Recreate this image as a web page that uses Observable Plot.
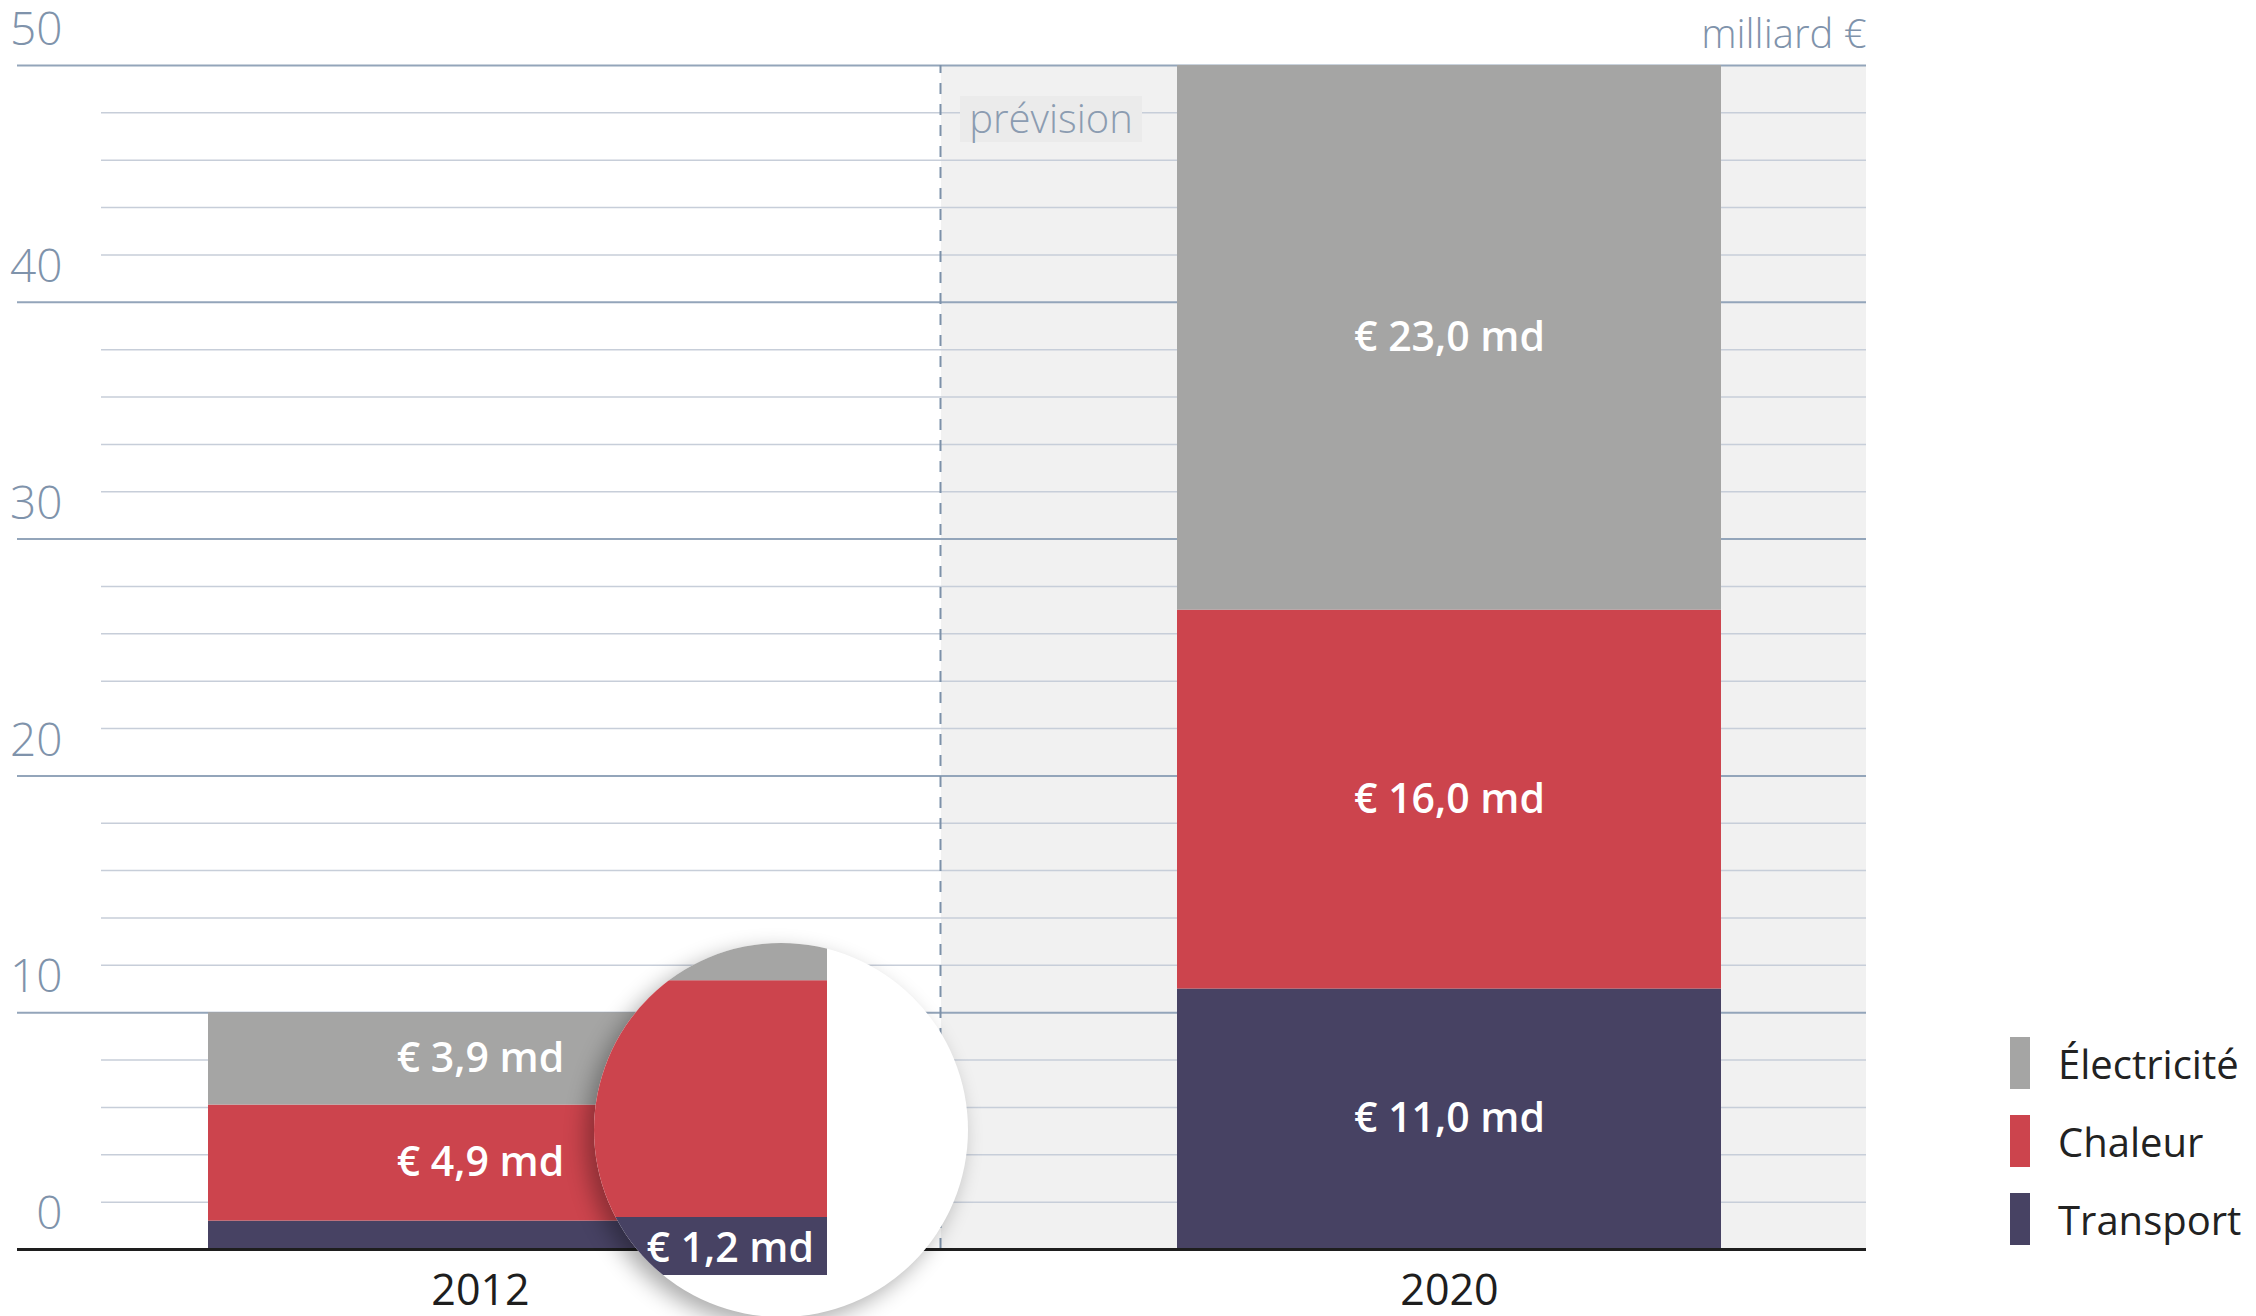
<!DOCTYPE html>
<html>
<head>
<meta charset="utf-8">
<script src="https://cdn.jsdelivr.net/npm/d3@7"></script>
<script src="https://cdn.jsdelivr.net/npm/@observablehq/plot@0.6"></script>
<style>
  html, body { margin: 0; padding: 0; background: #fff; overflow: hidden; }
  #wrap { position: relative; width: 2256px; height: 1316px; background: #fff; font-family: "Open Sans", sans-serif; }
  #wrap > svg { position: absolute; left: 0; top: 0; }
  #lens { position: absolute; left: 594px; top: 943px; width: 374px; height: 374px; border-radius: 50%;
          overflow: hidden; background: #fff; box-shadow: -8px 8px 22px rgba(0,0,0,0.33); }
  #lens svg { display: block; }
  #forecast { position: absolute; left: 960px; top: 96px; width: 182px; height: 46px; background: #ebebeb;
              color: #8b9cb1; font-size: 40px; font-weight: 300; line-height: 44px; text-align: center; }
  #legend { position: absolute; left: 2010px; top: 1037px; }
  .row { display: flex; align-items: center; height: 52px; margin-bottom: 26px; }
  .sw { width: 20px; height: 52px; }
  .lab { margin-left: 28px; font-size: 40px; color: #222; font-weight: 400; }
</style>
</head>
<body>
<div id="wrap"></div>
<script>
// ---- data ----
const years = ["2012", "2020"];
const categories = ["Transport", "Chaleur", "Électricité"];
const colors = ["#474263", "#cc444d", "#a5a5a4"];
const values2012 = [1.2, 4.9, 3.9];
const values2020 = [11.0, 16.0, 23.0];
const majorTicks = [0, 10, 20, 30, 40, 50];
const minorTicks = [2, 4, 6, 8, 12, 14, 16, 18, 22, 24, 26, 28, 32, 34, 36, 38, 42, 44, 46, 48];
const unitLabel = "milliard €";
const forecastLabel = "prévision";
const forecastSpan = [0, 50];
const zoomedYear = "2012";
const zoomedCategory = "Transport";

const seriesByYear = [values2012, values2020];
const data = years.flatMap((year, i) =>
  categories.map((category, j) => ({year, category, value: seriesByYear[i][j]})));

const fmt = d => "€ " + d.value.toFixed(1).replace(".", ",") + " md";
const isZoomed = d => d.year === zoomedYear && d.category === zoomedCategory;

const wrap = document.getElementById("wrap");

// ---- main chart ----
const main = Plot.plot({
  width: 2256, height: 1316,
  marginTop: 65, marginBottom: 67, marginLeft: 17, marginRight: 390,
  x: {domain: years, paddingInner: 0.4381, paddingOuter: 0.1722, align: 0.57, axis: null},
  y: {domain: [0, 50], axis: null},
  color: {domain: categories, range: colors},
  style: {fontFamily: "Open Sans, sans-serif", background: "transparent"},
  marks: [
    Plot.rect([forecastSpan], {y1: d => d[0], y2: d => d[1], insetLeft: 924, fill: "#f1f1f1"}),
    Plot.ruleY(minorTicks, {insetLeft: 84, stroke: "#c7ced9", strokeWidth: 1.5}),
    Plot.ruleY(majorTicks.filter(t => t > 0), {stroke: "#93a5ba", strokeWidth: 2}),
    Plot.ruleX([forecastSpan], {x: () => "2020", y1: d => d[0], y2: d => d[1], dx: -509,
      stroke: "#7d91a9", strokeWidth: 2, strokeDasharray: "11,10"}),
    Plot.barY(data, {x: "year", y: "value", fill: "category"}),
    Plot.ruleY([0], {stroke: "#1e1e1e", strokeWidth: 3}),
    Plot.text(data, Plot.stackY({x: "year", y: "value", z: "category",
      text: d => isZoomed(d) ? "" : fmt(d), fill: "white", fontSize: 41, fontWeight: 600})),
    Plot.text(majorTicks, {y: d => d, text: d => String(d), frameAnchor: "left", textAnchor: "end",
      lineAnchor: "middle", dx: 45, dy: -35, fill: "#7f93ab", fontSize: 46, fontWeight: 300}),
    Plot.text([unitLabel], {y: () => 50, text: d => d, frameAnchor: "right", textAnchor: "end",
      lineAnchor: "middle", dy: -30, fill: "#7f93ab", fontSize: 40, fontWeight: 300}),
    Plot.text(years, {x: d => d, text: d => d, frameAnchor: "bottom", lineAnchor: "middle", dy: 42,
      fill: "#1e1e1e", fontSize: 43, fontWeight: 400})
  ]
});
wrap.appendChild(main);

// ---- forecast label ----
const fc = document.createElement("div");
fc.id = "forecast";
fc.textContent = forecastLabel;
wrap.appendChild(fc);

// ---- magnifier lens ----
const lensDiv = document.createElement("div");
lensDiv.id = "lens";
const lensData = data.filter(d => d.year === zoomedYear);
const lens = Plot.plot({
  width: 374, height: 374,
  marginTop: 0, marginBottom: 42, marginLeft: 0, marginRight: 0,
  x: {domain: [zoomedYear], range: [-858, 233], padding: 0, axis: null},
  y: {domain: [0, 6.87], axis: null},
  color: {domain: categories, range: colors},
  style: {fontFamily: "Open Sans, sans-serif", background: "transparent"},
  marks: [
    Plot.barY(lensData, {x: "year", y: "value", fill: "category"}),
    Plot.text(lensData, Plot.stackY({x: "year", y: "value", z: "category",
      text: d => isZoomed(d) ? fmt(d) : "", textAnchor: "end", dx: 532, dy: 2,
      fill: "white", fontSize: 41, fontWeight: 600}))
  ]
});
lensDiv.appendChild(lens);
wrap.appendChild(lensDiv);

// ---- legend ----
const legend = document.createElement("div");
legend.id = "legend";
categories.slice().reverse().forEach(cat => {
  const row = document.createElement("div");
  row.className = "row";
  const sw = document.createElement("div");
  sw.className = "sw";
  sw.style.background = colors[categories.indexOf(cat)];
  const lab = document.createElement("div");
  lab.className = "lab";
  lab.textContent = cat;
  row.appendChild(sw); row.appendChild(lab);
  legend.appendChild(row);
});
wrap.appendChild(legend);
</script>
</body>
</html>
